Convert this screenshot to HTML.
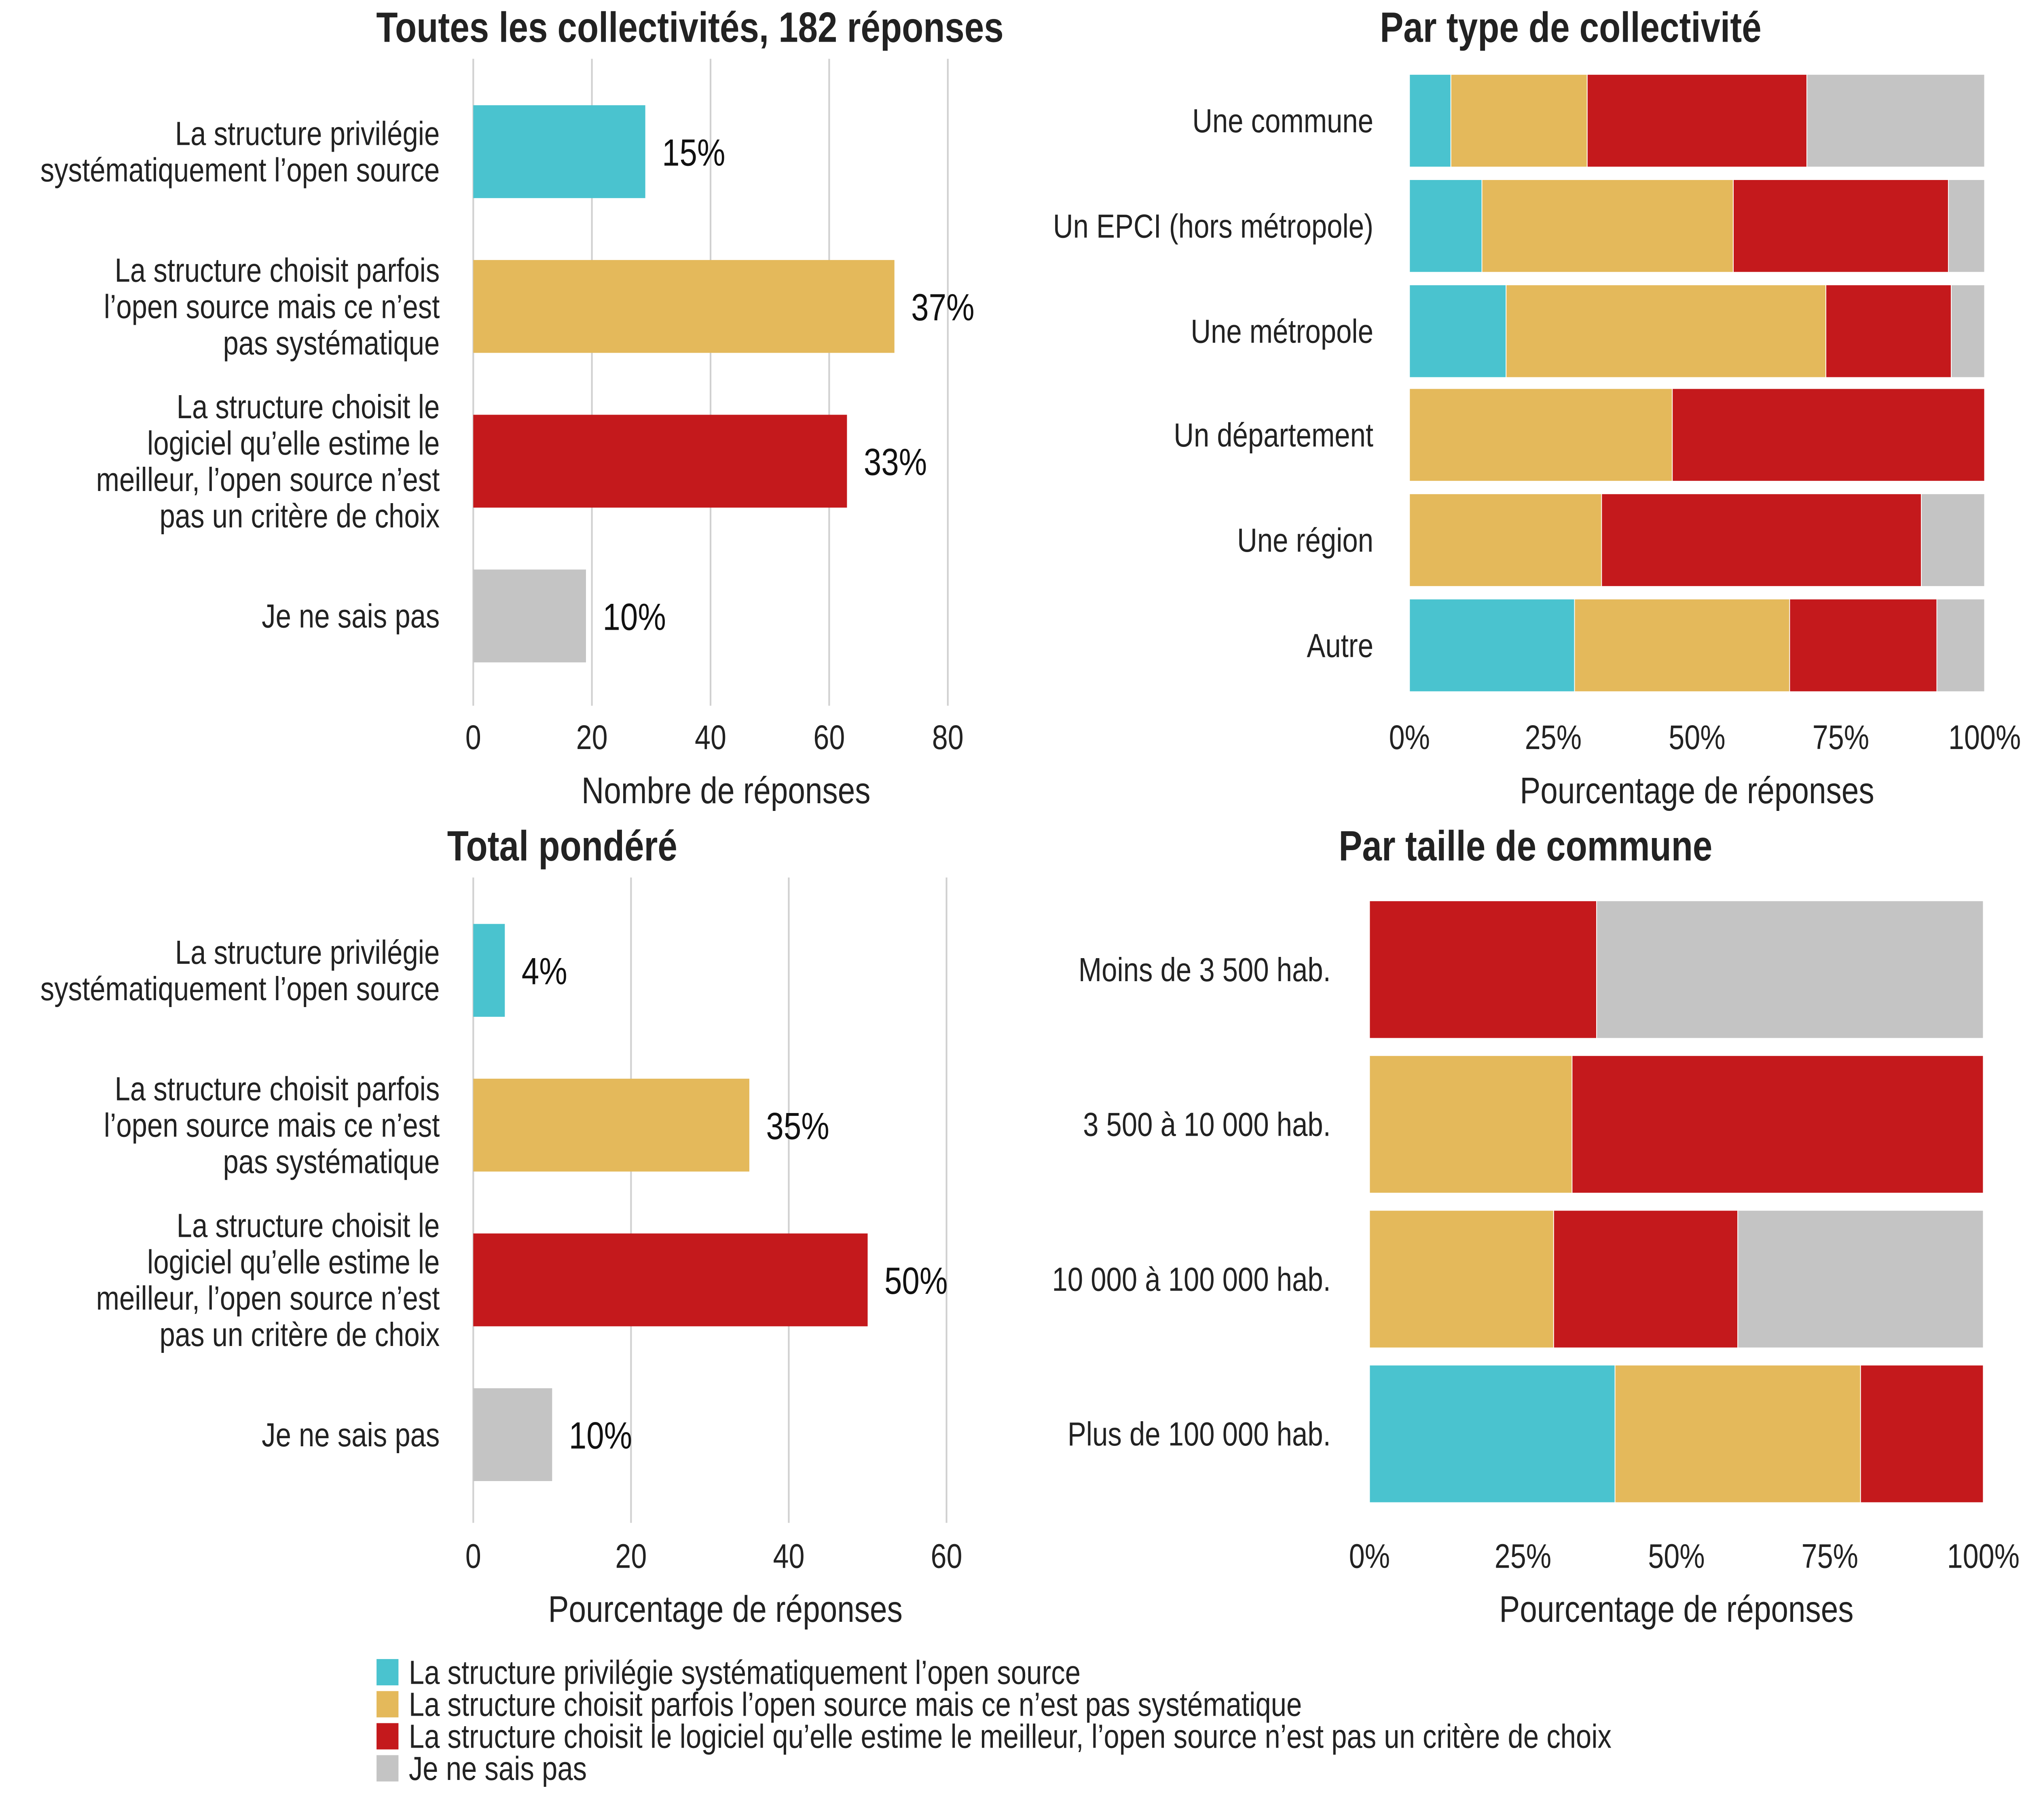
<!DOCTYPE html>
<html><head><meta charset="utf-8">
<style>
html,body{margin:0;padding:0;background:#fff;width:100%;height:100%;overflow:hidden;}
svg{display:block;position:fixed;left:0;top:0;width:100vw;height:100vh;font-family:"Liberation Sans",sans-serif;}
</style></head>
<body>
<svg id="chart" viewBox="0 0 1568 1176" preserveAspectRatio="none" xmlns="http://www.w3.org/2000/svg"></svg>
<script>
const colors = ["#4AC3CF","#E4B95B","#C4191C","#C4C4C4"];
const seriesNames = ["La structure privilégie systématiquement l’open source","La structure choisit parfois l’open source mais ce n’est pas systématique","La structure choisit le logiciel qu’elle estime le meilleur, l’open source n’est pas un critère de choix","Je ne sais pas"];
const leftCats = [["La structure privilégie","systématiquement l’open source"],["La structure choisit parfois","l’open source mais ce n’est","pas systématique"],["La structure choisit le","logiciel qu’elle estime le","meilleur, l’open source n’est","pas un critère de choix"],["Je ne sais pas"]];
const tlValues = [29, 71, 63, 19];
const tlLabels = ["15%","37%","33%","10%"];
const tlTicks = [0,20,40,60,80];
const blValues = [4, 35, 50, 10];
const blLabels = ["4%","35%","50%","10%"];
const blTicks = [0,20,40,60];
const typeCats = ["Une commune","Un EPCI (hors métropole)","Une métropole","Un département","Une région","Autre"];
const typeBlue = [7.2,12.6,16.8,0,0,28.7];
const typeYellow = [23.7,43.7,55.6,45.7,33.4,37.4];
const typeRed = [38.2,37.4,21.8,54.3,55.6,25.6];
const typeGrey = [30.9,6.3,5.8,0,11.0,8.3];
const sizeCats = ["Moins de 3 500 hab.","3 500 à 10 000 hab.","10 000 à 100 000 hab.","Plus de 100 000 hab."];
const sizeBlue = [0,0,0,40];
const sizeYellow = [0,33,30,40];
const sizeRed = [37,67,30,20];
const sizeGrey = [63,0,40,0];
const pctTicks = [0,25,50,75,100];

const svg = document.getElementById('chart');
const NS = "http://www.w3.org/2000/svg";
function mk(tag, attrs, parent, text){
  const e = document.createElementNS(NS, tag);
  for (const k in attrs) e.setAttribute(k, attrs[k]);
  if (text !== undefined) e.textContent = text;
  (parent||svg).appendChild(e);
  return e;
}
function title(x,y,t,name){
  const e = mk('text',{x:x,y:y,'text-anchor':'middle','font-size':27.3,'font-weight':'bold',fill:'#222'},svg,t);
  
  
}

function barPanel(g, x0, x1, maxV, ticks, yTop, yBot, bar0, values, labels, axisTitle, tickY, titleY){
  const sx = v => x0 + (x1-x0)*v/maxV;
  ticks.forEach(t=>{
    const l = mk('line',{x1:sx(t),x2:sx(t),y1:yTop,y2:yBot,stroke:'#d0d0d0','stroke-width':1.3},g);
    
    
    const tx = mk('text',{x:sx(t),y:tickY,'text-anchor':'middle','font-size':22,fill:'#222'},g,String(t));
    
    
  });
  values.forEach((v,i)=>{
    const y = bar0 + i*100;
    const r = mk('rect',{x:x0,y:y,width:sx(v)-x0,height:60,fill:colors[i]},g);
    
    
    const vl = mk('text',{x:sx(v)+13,y:y+39,'font-size':24.5,fill:'#111'},g,labels[i]);
    
    
    const lines = leftCats[i];
    const lh = 23.5;
    const cy = y+30 - (lines.length-1)*lh/2;
    lines.forEach((ln,j)=>{
      const c = mk('text',{x:341,y:cy+j*lh+7.5,'text-anchor':'end','font-size':21.6,fill:'#222'},g,ln);
      
      
    });
  });
  const at = mk('text',{x:(x0+x1)/2+12,y:titleY,'text-anchor':'middle','font-size':24,fill:'#222'},g,axisTitle);
  
  
}

function stackPanel(g, x0, x1, rows, rowH, cats, series, labelX, tickY, axisTitle, titleY){
  const sx = v => x0 + (x1-x0)*v/100;
  pctTicks.forEach(t=>{
    const tx = mk('text',{x:sx(t),y:tickY,'text-anchor':'middle','font-size':22,fill:'#222'},g,t+'%');
    
    
  });
  cats.forEach((c,i)=>{
    const y = rows[i];
    let acc = 0;
    series.forEach((s,k)=>{
      const v = s[i];
      if (v>0){
        const r = mk('rect',{x:sx(acc),y:y,width:sx(acc+v)-sx(acc),height:rowH,fill:colors[k],stroke:'#fff','stroke-width':0.6},g);
        
        
      }
      acc += v;
    });
    const cl = mk('text',{x:labelX,y:y+rowH/2+7.5,'text-anchor':'end','font-size':21.6,fill:'#222'},g,c);
    
    
  });
  const at = mk('text',{x:(x0+x1)/2,y:titleY,'text-anchor':'middle','font-size':24,fill:'#222'},g,axisTitle);
  
  
}

const g1 = mk('g',{});  
title(535,27,"Toutes les collectivités, 182 réponses",'title-all');
barPanel(g1,367,735,80,tlTicks,38,456,68,tlValues,tlLabels,"Nombre de réponses",484,519);

const g2 = mk('g',{});  
title(1218,27,"Par type de collectivité",'title-type');
stackPanel(g2,1093,1539,[48,116,184,251,319,387],60,typeCats,[typeBlue,typeYellow,typeRed,typeGrey],1065,484,"Pourcentage de réponses",519);

const g3 = mk('g',{});  
title(436,556,"Total pondéré",'title-weighted');
barPanel(g3,367,734,60,blTicks,567,984,597,blValues,blLabels,"Pourcentage de réponses",1013,1048);

const g4 = mk('g',{});  
title(1183,556,"Par taille de commune",'title-size');
stackPanel(g4,1062,1538,[582,682,782,882],89,sizeCats,[sizeBlue,sizeYellow,sizeRed,sizeGrey],1032,1013,"Pourcentage de réponses",1048);

const lg = mk('g',{});  
seriesNames.forEach((n,i)=>{
  const y = 1072 + i*20.7;
  const r = mk('rect',{x:292,y:y,width:17,height:17,fill:colors[i]},lg);
  
  
  const t = mk('text',{x:317,y:y+16,'font-size':21.6,fill:'#222'},lg,n);
  
  
});
</script>
</body></html>
